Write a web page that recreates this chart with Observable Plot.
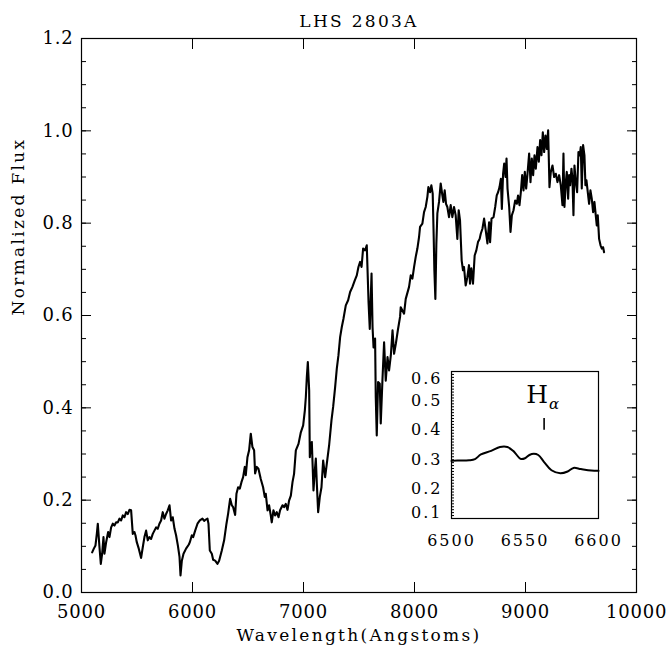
<!DOCTYPE html>
<html>
<head>
<meta charset="utf-8">
<script src="https://cdn.jsdelivr.net/npm/d3@7"></script>
<script src="https://cdn.jsdelivr.net/npm/@observablehq/plot@0.6"></script>
<style>
  body { margin: 0; background: #fff; }
  #wrap { position: relative; width: 668px; height: 654px; background: #fff; }
  #inset { position: absolute; left: 400px; top: 360px; }
  .main g[aria-label="text"] text { letter-spacing: 2.3px; }
  .main g[aria-label$="tick label"] text { letter-spacing: 0.8px; }
  .ins g[aria-label$="tick label"] text { letter-spacing: 2px; }
</style>
</head>
<body>
<div id="wrap"><div id="main"></div><div id="inset"></div></div>
<script>
// ---- main spectrum ----
const wavelength = [
5096,5111,5126,5138,5147,5162,5174,5186,5198,5207,5222,5240,5252,5267,5282,5297,5312,5327,5342,5357,
5372,5387,5402,5417,5432,5447,5462,5477,5486,5498,5516,5537,5552,5567,5582,5597,5612,5627,5642,5657,
5672,5687,5702,5717,5732,5747,5762,5777,5793,5807,5822,5838,5852,5868,5883,5892,5904,5919,5942,5967,
5976,5994,6006,6024,6045,6066,6090,6105,6120,6135,6144,6156,6174,6186,6204,6225,6240,6264,6285,6306,
6321,6339,6354,6366,6384,6396,6411,6426,6441,6456,6471,6480,6495,6510,6525,6540,6555,6564,6579,6594,
6615,6636,6651,6660,6676,6690,6705,6714,6729,6744,6759,6775,6789,6811,6825,6840,6856,6870,6886,6901,
6915,6931,6955,6976,6997,7012,7021,7030,7039,7051,7057,7066,7075,7090,7102,7111,7120,7132,7147,7162,
7177,7195,7210,7231,7252,7267,7285,7300,7315,7330,7345,7360,7381,7402,7420,7441,7462,7480,7495,7510,
7523,7537,7555,7570,7586,7597,7613,7622,7631,7645,7651,7660,7672,7687,7696,7711,7726,7741,7757,7771,
7787,7802,7816,7832,7850,7870,7876,7906,7921,7951,7966,7981,7996,8011,8026,8041,8050,8071,8086,8101,
8116,8125,8140,8152,8164,8173,8179,8188,8197,8206,8221,8236,8251,8260,8272,8284,8296,8311,8326,8341,
8356,8371,8386,8398,8410,8425,8437,8446,8461,8476,8491,8500,8512,8527,8542,8557,8572,8587,8597,8612,
8627,8642,8657,8672,8681,8694,8712,8727,8741,8753,8766,8778,8787,8798,8808,8820,8829,8838,8853,8865,
8877,8892,8907,8922,8933,8946,8958,8970,8982,8994,9006,9018,9033,9045,9057,9069,9081,9093,9108,9120,
9132,9144,9156,9168,9180,9192,9204,9216,9228,9243,9258,9273,9288,9303,9318,9333,9342,9351,9363,9372,
9384,9393,9402,9414,9423,9432,9441,9453,9465,9477,9489,9498,9507,9519,9531,9540,9549,9561,9573,9585,
9597,9609,9621,9633,9642,9651,9663,9676,9688,9699,9708
];
const flux = [
0.087,0.095,0.102,0.127,0.149,0.098,0.062,0.084,0.120,0.084,0.109,0.131,0.120,0.141,0.149,0.145,0.152,0.152,0.160,0.156,
0.167,0.163,0.174,0.170,0.179,0.178,0.127,0.131,0.124,0.109,0.095,0.075,0.098,0.120,0.134,0.113,0.120,0.116,0.127,0.134,
0.141,0.138,0.149,0.156,0.174,0.160,0.170,0.178,0.189,0.156,0.163,0.138,0.124,0.102,0.077,0.037,0.069,0.084,0.095,0.104,
0.109,0.124,0.120,0.134,0.149,0.156,0.160,0.155,0.158,0.160,0.149,0.091,0.084,0.071,0.069,0.062,0.069,0.091,0.113,0.149,
0.171,0.203,0.189,0.185,0.168,0.214,0.228,0.225,0.239,0.250,0.272,0.254,0.293,0.308,0.344,0.315,0.308,0.258,0.272,0.268,
0.246,0.228,0.207,0.214,0.178,0.189,0.167,0.152,0.178,0.167,0.174,0.163,0.178,0.189,0.185,0.192,0.179,0.199,0.210,0.239,
0.257,0.308,0.322,0.347,0.362,0.394,0.423,0.467,0.499,0.438,0.293,0.322,0.326,0.221,0.264,0.290,0.236,0.174,0.207,0.228,
0.286,0.250,0.279,0.319,0.373,0.402,0.445,0.485,0.514,0.553,0.575,0.593,0.622,0.633,0.651,0.662,0.676,0.687,0.705,0.716,
0.705,0.745,0.741,0.752,0.629,0.571,0.691,0.575,0.531,0.550,0.423,0.340,0.456,0.452,0.366,0.459,0.542,0.459,0.510,0.481,
0.514,0.568,0.517,0.539,0.568,0.597,0.618,0.604,0.636,0.662,0.687,0.680,0.705,0.727,0.745,0.770,0.792,0.799,0.824,0.835,
0.857,0.878,0.867,0.882,0.864,0.770,0.698,0.636,0.756,0.821,0.846,0.886,0.860,0.846,0.871,0.842,0.835,0.813,0.839,0.813,
0.835,0.817,0.766,0.828,0.806,0.719,0.698,0.705,0.665,0.683,0.709,0.669,0.702,0.669,0.730,0.741,0.759,0.766,0.777,0.788,
0.810,0.784,0.756,0.802,0.759,0.810,0.813,0.835,0.860,0.867,0.878,0.896,0.831,0.907,0.929,0.900,0.940,0.875,0.835,0.781,
0.817,0.828,0.849,0.842,0.860,0.839,0.867,0.904,0.871,0.911,0.875,0.907,0.951,0.889,0.940,0.904,0.947,0.918,0.965,0.933,
0.980,0.947,0.997,0.954,0.990,0.961,1.001,0.878,0.911,0.925,0.900,0.907,0.889,0.904,0.882,0.839,0.951,0.835,0.889,0.911,
0.853,0.904,0.882,0.918,0.896,0.817,0.925,0.889,0.867,0.954,0.947,0.965,0.875,0.969,0.947,0.882,0.893,0.867,0.842,0.871,
0.853,0.824,0.846,0.817,0.795,0.817,0.766,0.752,0.745,0.748,0.737
];
// ---- inset (H-alpha region) ----
const insetWavelength = [6500,6504,6512,6516,6520,6527,6533,6538,6542,6547,6550,6553,6556,6559,6563,6568,6574,6579,6583,6588,6595,6600];
const insetFlux = [0.296,0.297,0.298,0.302,0.318,0.330,0.343,0.343,0.330,0.303,0.305,0.316,0.320,0.316,0.292,0.264,0.254,0.260,0.272,0.268,0.263,0.262];

const title = ["LHS 2803A"];
const xLabel = ["Wavelength(Angstoms)"];
const yLabel = ["Normalized Flux"];
const xTicks = [5000, 6000, 7000, 8000, 9000, 10000];
const yTicks = [0.0, 0.2, 0.4, 0.6, 0.8, 1.0, 1.2];
const yMinor = d3.range(0, 1.2001, 0.05);
const insetXTicks = [6500, 6550, 6600];
const insetYTicks = [0.2, 0.3, 0.4, 0.5];
const insetYTop = [0.6];
const insetYBottom = [0.1];
const insetYMinor = d3.range(0.1, 0.6001, 0.01);
const halphaLine = [6563];
const halphaH = [{x: 6563, y: 0.52, t: "H"}];
const halphaSub = [{x: 6563, y: 0.488, t: "α"}];

const spec = wavelength.map((w, i) => ({w, f: flux[i]}));
const ins = insetWavelength.map((w, i) => ({w, f: insetFlux[i]}));
const none = () => "";

const main = Plot.plot({
  width: 668, height: 654,
  marginLeft: 81, marginRight: 32, marginTop: 38, marginBottom: 62,
  style: {fontFamily: "DejaVu Serif", fontSize: "18px", color: "#000", background: "#fff", overflow: "visible"},
  x: {domain: [5000, 10000]},
  y: {domain: [0, 1.2]},
  marks: [
    Plot.line(spec, {x: "w", y: "f", stroke: "#000", strokeWidth: 2.1, strokeLinejoin: "round"}),
    Plot.axisX(xTicks, {anchor: "bottom", tickSize: -10, tickFormat: none, label: null}),
    Plot.axisX(xTicks, {anchor: "top", tickSize: -10, tickFormat: none, label: null}),
    Plot.axisX(xTicks, {anchor: "bottom", tickSize: 0, tickPadding: 13, tickFormat: d3.format("d"), label: null}),
    Plot.axisY(yTicks, {anchor: "left", tickSize: -10, tickFormat: none, label: null}),
    Plot.axisY(yMinor, {anchor: "left", tickSize: -5, tickFormat: none, label: null}),
    Plot.axisY(yTicks, {anchor: "right", tickSize: -10, tickFormat: none, label: null}),
    Plot.axisY(yMinor, {anchor: "right", tickSize: -5, tickFormat: none, label: null}),
    Plot.axisY(yTicks, {anchor: "left", tickSize: 0, tickPadding: 8, tickFormat: d3.format(".1f"), label: null}),
    Plot.frame({stroke: "#000", strokeWidth: 1.2}),
    Plot.text(title, {frameAnchor: "top", dy: -24, text: d => d, fontSize: 17}),
    Plot.text(xLabel, {frameAnchor: "bottom", dy: 48, text: d => d, fontSize: 17}),
    Plot.text(yLabel, {frameAnchor: "left", dx: -63, rotate: -90, text: d => d, fontSize: 17})
  ]
});
main.classList.add("main");
document.getElementById("main").appendChild(main);

const inset = Plot.plot({
  width: 220, height: 200,
  marginLeft: 51, marginRight: 22, marginTop: 11, marginBottom: 42,
  style: {fontFamily: "DejaVu Serif", fontSize: "16px", color: "#000", background: "transparent", overflow: "visible"},
  x: {domain: [6500, 6600]},
  y: {domain: [0.1, 0.6]},
  marks: [
    Plot.frame({fill: "#fff"}),
    Plot.line(ins, {x: "w", y: "f", stroke: "#000", strokeWidth: 2, curve: "catmull-rom"}),
    Plot.axisY(insetYMinor, {anchor: "left", tickSize: -3, tickFormat: none, label: null}),
    Plot.axisX(insetXTicks, {anchor: "bottom", tickSize: 0, tickPadding: 16, tickFormat: d3.format("d"), label: null}),
    Plot.axisY(insetYTicks, {anchor: "left", tickSize: 0, tickPadding: 9, tickFormat: d3.format(".1f"), label: null}),
    Plot.axisY(insetYTop, {anchor: "left", tickSize: 0, tickPadding: 9, dy: 7, tickFormat: d3.format(".1f"), label: null}),
    Plot.axisY(insetYBottom, {anchor: "left", tickSize: 0, tickPadding: 9, dy: -6, tickFormat: d3.format(".1f"), label: null}),
    Plot.ruleX(halphaLine, {x: d => d, y1: 0.40, y2: 0.44, stroke: "#000", strokeWidth: 1.6}),
    Plot.text(halphaH, {x: "x", y: "y", text: "t", textAnchor: "end", dx: 4, fontSize: 25}),
    Plot.text(halphaSub, {x: "x", y: "y", text: "t", textAnchor: "start", dx: 5, fontSize: 15, fontStyle: "italic"}),
    Plot.frame({stroke: "#000", strokeWidth: 1.2})
  ]
});
inset.classList.add("ins");
document.getElementById("inset").appendChild(inset);
</script>
</body>
</html>
